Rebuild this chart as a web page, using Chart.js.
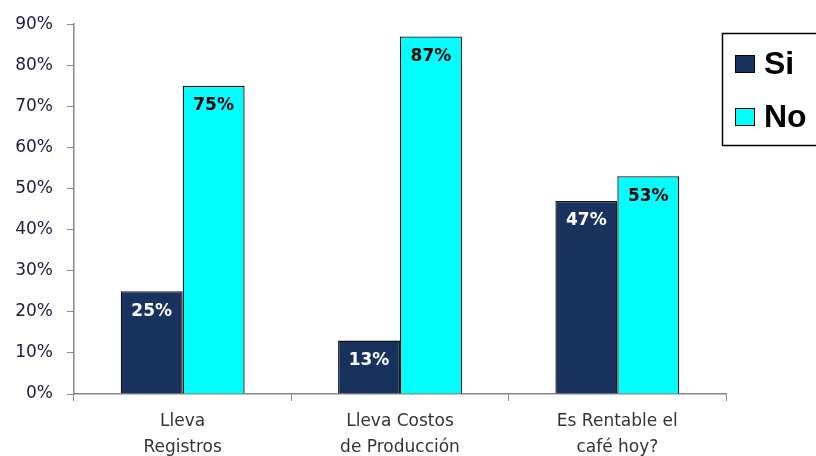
<!DOCTYPE html>
<html>
<head>
<meta charset="utf-8">
<script src="https://cdn.jsdelivr.net/npm/chart.js@4/dist/chart.umd.min.js"></script>
<style>
  html, body { margin: 0; padding: 0; background: #fff; overflow: hidden; }
  #wrap { width: 816px; height: 456px; position: relative; }
</style>
</head>
<body>
<div id="wrap"><canvas id="chart"></canvas></div>
<script>
// Chart data
const categories = [['Lleva', 'Registros'], ['Lleva Costos', 'de Producción'], ['Es Rentable el', 'café hoy?']];
const siValues = [25, 13, 47];
const noValues = [75, 87, 53];
const seriesNames = ['Si', 'No'];
const yTicks = [0, 10, 20, 30, 40, 50, 60, 70, 80, 90];

const SI_COLOR = '#17325c';
const NO_COLOR = '#00ffff';
const FONT = '"DejaVu Sans", Verdana, sans-serif';

// Value labels drawn inside the top of each bar
const barLabels = {
  id: 'barLabels',
  afterDatasetsDraw(chart) {
    const ctx = chart.ctx;
    ctx.save();
    ctx.font = 'bold 17px ' + FONT;
    ctx.textAlign = 'center';
    ctx.textBaseline = 'middle';
    chart.data.datasets.forEach((ds, i) => {
      const meta = chart.getDatasetMeta(i);
      meta.data.forEach((bar, j) => {
        ctx.fillStyle = i === 0 ? '#ffffff' : '#000000';
        ctx.fillText(ds.data[j] + '%', bar.x, bar.y + 20);
      });
    });
    ctx.restore();
  }
};

// Boxed legend on the right, cut off at the edge like the original
const boxLegend = {
  id: 'boxLegend',
  afterDraw(chart) {
    const ctx = chart.ctx;
    const x0 = chart.chartArea.right - 4;
    const y0 = 33;
    ctx.save();
    ctx.strokeStyle = '#000';
    ctx.lineWidth = 1.5;
    ctx.strokeRect(x0 + 0.5, y0 + 0.5, 140, 112);
    ctx.font = 'bold 32px "Liberation Sans", Arial, sans-serif';
    ctx.textBaseline = 'middle';
    ctx.textAlign = 'left';
    chart.data.datasets.forEach((ds, i) => {
      const cy = y0 + 31 + i * 53;
      ctx.fillStyle = ds.backgroundColor;
      ctx.fillRect(x0 + 13, cy - 9, 20, 18);
      ctx.lineWidth = 1;
      ctx.strokeRect(x0 + 13.5, cy - 8.5, 19, 17);
      ctx.fillStyle = '#000';
      ctx.fillText(ds.label, x0 + 42, cy + 1);
    });
    ctx.restore();
  }
};

new Chart(document.getElementById('chart'), {
  type: 'bar',
  data: {
    labels: categories,
    datasets: [
      {
        label: seriesNames[0],
        data: siValues,
        backgroundColor: SI_COLOR,
        borderColor: '#111',
        borderWidth: 1.3
      },
      {
        label: seriesNames[1],
        data: noValues,
        backgroundColor: NO_COLOR,
        borderColor: '#111',
        borderWidth: 1.3
      }
    ]
  },
  options: {
    responsive: true,
    maintainAspectRatio: false,
    animation: false,
    layout: { padding: { top: 22, right: 90, left: 0, bottom: 0 } },
    plugins: {
      legend: { display: false },
      tooltip: { enabled: false }
    },
    datasets: {
      bar: { categoryPercentage: 0.57, barPercentage: 1 }
    },
    scales: {
      x: {
        afterFit(axis) { axis.height = 62; },
        grid: {
          offset: true,
          drawOnChartArea: false,
          drawTicks: true,
          tickLength: 7,
          color: '#888'
        },
        border: { color: '#888', width: 1.5 },
        ticks: {
          color: '#333',
          font: { family: FONT, size: 17, lineHeight: 1.5 },
          padding: 8
        }
      },
      y: {
        min: 0,
        max: 90,
        afterFit(axis) { axis.width = 74; },
        afterBuildTicks(axis) {
          axis.ticks = yTicks.map(v => ({ value: v }));
        },
        grid: {
          drawOnChartArea: false,
          drawTicks: true,
          tickLength: 7,
          color: '#888'
        },
        border: { color: '#888', width: 1.5 },
        ticks: {
          color: '#1c1c40',
          font: { family: FONT, size: 17 },
          padding: 14,
          callback: v => v + '%'
        }
      }
    }
  },
  plugins: [barLabels, boxLegend]
});
</script>
</body>
</html>
